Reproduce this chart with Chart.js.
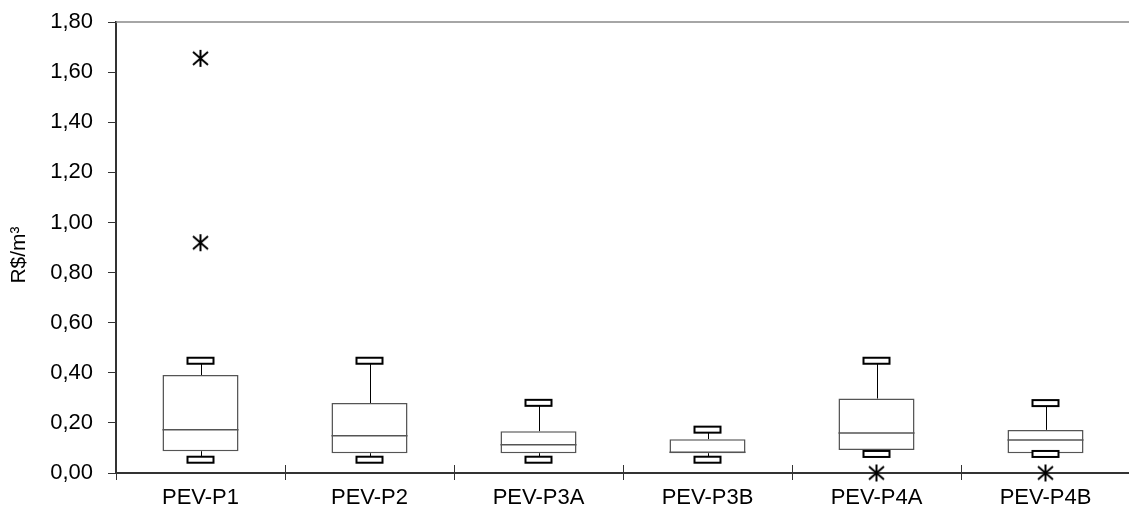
<!DOCTYPE html>
<html>
<head>
<meta charset="utf-8">
<script src="https://cdn.jsdelivr.net/npm/chart.js@4"></script>
<style>
  html, body { margin: 0; padding: 0; background: #fff; overflow: hidden; }
  #wrap { width: 1140px; height: 512px; }
</style>
</head>
<body>
<div id="wrap"><canvas id="chart" width="1140" height="512"></canvas></div>
<script>
// box plot data (R$/m3)
const categories = ["PEV-P1", "PEV-P2", "PEV-P3A", "PEV-P3B", "PEV-P4A", "PEV-P4B"];
const whiskerLow = [0.053, 0.053, 0.053, 0.053, 0.076, 0.076];
const q1 = [0.087, 0.079, 0.079, 0.079, 0.092, 0.079];
const median = [0.173, 0.149, 0.113, 0.083, 0.160, 0.132];
const q3 = [0.391, 0.279, 0.167, 0.135, 0.297, 0.172];
const whiskerHigh = [0.448, 0.448, 0.280, 0.173, 0.448, 0.279];
const outliers = [[1.655, 0.919], [], [], [], [0], [0]];
const yTicks = [0, 0.2, 0.4, 0.6, 0.8, 1.0, 1.2, 1.4, 1.6, 1.8];
const yTitle = "R$/m³";

const FAMILY = "'Liberation Sans', Arial, sans-serif";

// asterisk marker used for the outliers
function makeStar() {
  const c = document.createElement("canvas");
  c.width = 19; c.height = 19;
  const g = c.getContext("2d");
  g.strokeStyle = "#000";
  g.lineWidth = 2;
  g.beginPath();
  g.moveTo(2, 3); g.lineTo(17, 16);
  g.moveTo(17, 3); g.lineTo(2, 16);
  g.moveTo(9.5, 1); g.lineTo(9.5, 18);
  g.stroke();
  return c;
}

let outlierPoints = [];
outliers.forEach((list, i) => {
  list.forEach(v => outlierPoints.push({ x: categories[i], y: v }));
});

const boxParts = {
  id: "boxParts",
  beforeDatasetsDraw(chart) {
    const { ctx, scales: { x, y } } = chart;
    ctx.save();
    ctx.strokeStyle = "#000";
    ctx.lineWidth = 1;
    categories.forEach((c, i) => {
      const px = Math.round(x.getPixelForValue(i)) + 0.5;
      ctx.beginPath();
      ctx.moveTo(px, y.getPixelForValue(whiskerLow[i]));
      ctx.lineTo(px, y.getPixelForValue(q1[i]));
      ctx.moveTo(px, y.getPixelForValue(q3[i]));
      ctx.lineTo(px, y.getPixelForValue(whiskerHigh[i]));
      ctx.stroke();
    });
    ctx.restore();
  },
  afterDatasetsDraw(chart) {
    const { ctx, scales: { x, y } } = chart;
    const boxHalf = x.width / categories.length * 0.45 / 2;
    ctx.save();
    categories.forEach((c, i) => {
      const px = x.getPixelForValue(i);
      // median
      ctx.strokeStyle = "#555";
      ctx.lineWidth = 1.5;
      const my = y.getPixelForValue(median[i]);
      ctx.beginPath();
      ctx.moveTo(px - boxHalf, my);
      ctx.lineTo(px + boxHalf, my);
      ctx.stroke();
      // caps
      ctx.strokeStyle = "#000";
      ctx.lineWidth = 2;
      [whiskerLow[i], whiskerHigh[i]].forEach(v => {
        const cy = y.getPixelForValue(v);
        ctx.fillStyle = "#fff";
        ctx.fillRect(px - 13, cy - 3, 26, 6);
        ctx.strokeRect(px - 13, cy - 3, 26, 6);
      });
    });
    ctx.restore();
  },
  afterDraw(chart) {
    const { ctx, chartArea, scales: { x } } = chart;
    ctx.save();
    // top frame line
    ctx.strokeStyle = "#888";
    ctx.lineWidth = 1.5;
    ctx.beginPath();
    ctx.moveTo(chartArea.left, chartArea.top);
    ctx.lineTo(chartArea.right, chartArea.top);
    ctx.stroke();
    // x ticks also cross above the axis
    ctx.strokeStyle = "#333";
    ctx.lineWidth = 1;
    const w = x.width / categories.length;
    for (let i = 1; i < categories.length; i++) {
      const px = Math.round(chartArea.left + w * i) + 0.5;
      ctx.beginPath();
      ctx.moveTo(px, chartArea.bottom - 8);
      ctx.lineTo(px, chartArea.bottom);
      ctx.stroke();
    }
    // y axis title, sits a bit below the middle like the original
    ctx.translate(19, 255);
    ctx.rotate(-Math.PI / 2);
    ctx.fillStyle = "#000";
    ctx.font = "21px " + FAMILY;
    ctx.textAlign = "center";
    ctx.textBaseline = "middle";
    ctx.fillText(yTitle, 0, 0);
    ctx.restore();
  }
};

new Chart(document.getElementById("chart"), {
  data: {
    labels: categories,
    datasets: [
      {
        type: "bar",
        data: categories.map((c, i) => [q1[i], q3[i]]),
        backgroundColor: "#fff",
        borderColor: "#555",
        borderWidth: 1.5,
        borderSkipped: false,
        barPercentage: 0.45,
        categoryPercentage: 1
      },
      {
        type: "line",
        data: outlierPoints,
        showLine: false,
        pointStyle: makeStar(),
        pointRadius: 9,
        clip: false
      }
    ]
  },
  options: {
    responsive: false,
    animation: false,
    layout: { padding: { top: 22, left: 0, right: 0, bottom: 0 } },
    plugins: { legend: { display: false }, tooltip: { enabled: false } },
    scales: {
      x: {
        type: "category",
        offset: true,
        grid: { offset: true, drawOnChartArea: false, tickLength: 7, color: "#333" },
        border: { color: "#333", width: 2 },
        ticks: { font: { family: FAMILY, size: 22 }, color: "#000", padding: 5 },
        afterFit: s => { s.height = 39; s.paddingLeft = 0; s.paddingRight = 0; }
      },
      y: {
        min: 0,
        max: 1.8,
        afterBuildTicks: s => { s.ticks = yTicks.map(v => ({ value: v })); },
        ticks: {
          font: { family: FAMILY, size: 22 },
          color: "#000",
          padding: 15,
          callback: v => v.toFixed(2).replace(".", ",")
        },
        grid: { drawOnChartArea: false, tickLength: 8, color: "#333" },
        border: { color: "#333", width: 2 },
        afterFit: s => { s.width = 116; s.paddingTop = 0; s.paddingBottom = 0; }
      }
    }
  },
  plugins: [boxParts]
});
</script>
</body>
</html>
